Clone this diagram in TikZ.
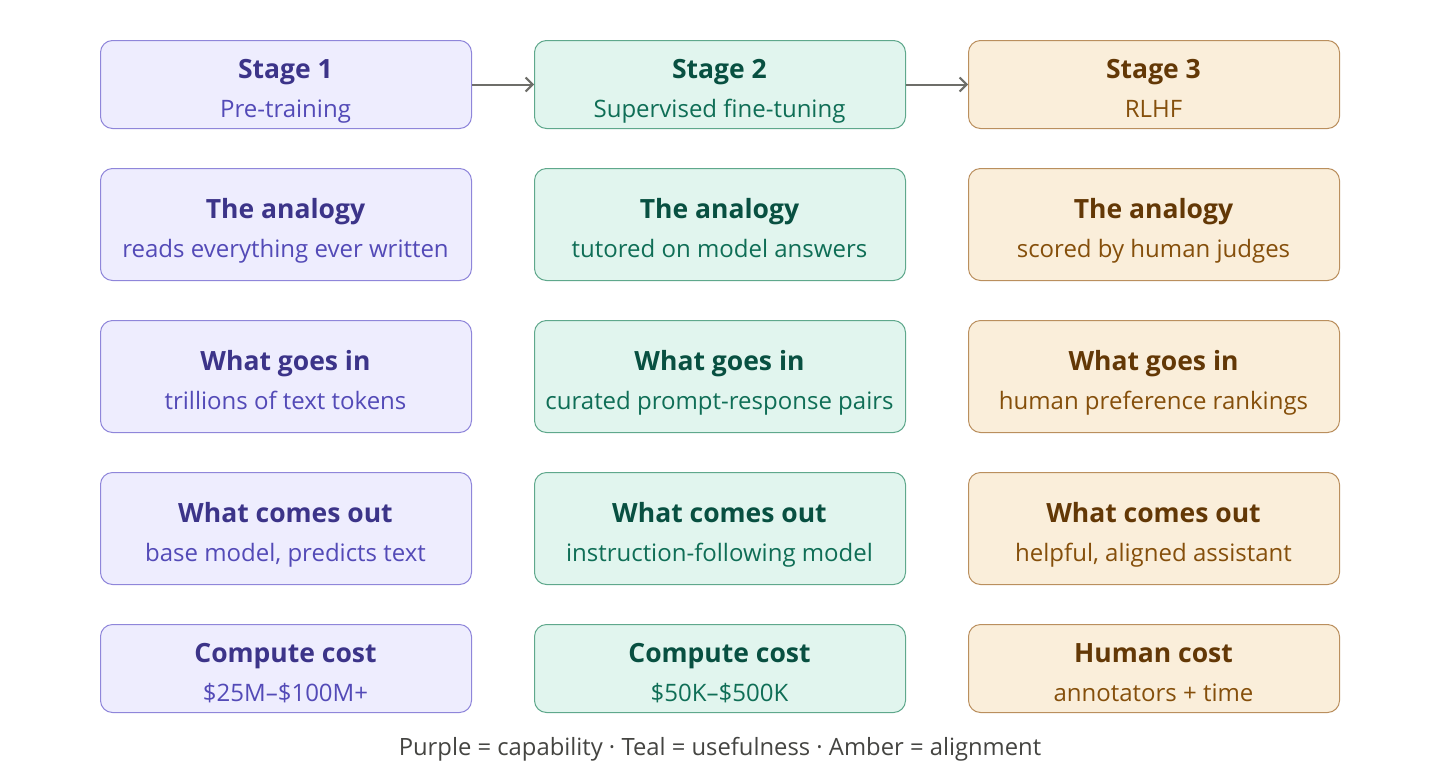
\documentclass[tikz,border=0pt]{standalone}
\usepackage{fontspec}
\setmainfont{Open Sans}
\usetikzlibrary{arrows.meta}
\definecolor{pfill}{HTML}{EEEDFE}
\definecolor{pdraw}{HTML}{8F86DA}
\definecolor{ptitle}{HTML}{3C3489}
\definecolor{psub}{HTML}{534AB7}
\definecolor{tfill}{HTML}{E1F5EE}
\definecolor{tdraw}{HTML}{5FA88C}
\definecolor{ttitle}{HTML}{085041}
\definecolor{tsub}{HTML}{0F6E56}
\definecolor{afill}{HTML}{FAEEDA}
\definecolor{adraw}{HTML}{BA8F5E}
\definecolor{atitle}{HTML}{633806}
\definecolor{asub}{HTML}{854F0B}
\definecolor{arrowc}{HTML}{6E6E69}
\definecolor{capc}{HTML}{444441}
\tikzset{
  cardbox/.style={draw, line width=1pt, rounded corners=12pt, minimum width=371pt, inner sep=0pt, anchor=north west},
  pbox/.style={cardbox, fill=pfill, draw=pdraw},
  tbox/.style={cardbox, fill=tfill, draw=tdraw},
  abox/.style={cardbox, fill=afill, draw=adraw},
  ttl/.style={font=\fontsize{26.5}{30}\selectfont\bfseries, anchor=base, inner sep=0pt},
  sbt/.style={font=\fontsize{24}{28}\selectfont, anchor=base, inner sep=0pt},
  flowarrow/.style={draw=arrowc, line width=2pt, -{Straight Barb[length=7pt,width=14pt,line width=2pt]}}
}
% name, colour prefix, left x, top y, height, title, subtitle
\newcommand{\card}[7]{%
  \pgfmathsetmacro{\cx}{#3+185.5}%
  \pgfmathsetmacro{\ty}{#4+#5/2-6}%
  \pgfmathsetmacro{\sy}{#4+#5/2+33}%
  \node[#2box, minimum height=#5pt] (#1) at (#3,#4) {};
  \node[ttl, text=#2title] (#1t) at (\cx,\ty) {#6};
  \node[sbt, text=#2sub] (#1s) at (\cx,\sy) {#7};
}
\begin{document}
\begin{tikzpicture}[x=1pt,y=-1pt]
\useasboundingbox (0,0) rectangle (1440,782);
% column 1
\card{a1}{p}{100}{40}{88}{Stage 1}{Pre-training}
\card{a2}{p}{100}{168}{112}{The analogy}{reads everything ever written}
\card{a3}{p}{100}{320}{112}{What goes in}{trillions of text tokens}
\card{a4}{p}{100}{472}{112}{What comes out}{base model, predicts text}
\card{a5}{p}{100}{624}{88}{Compute cost}{\$25M–\$100M+}
% column 2
\card{b1}{t}{534}{40}{88}{Stage 2}{Supervised fine-tuning}
\card{b2}{t}{534}{168}{112}{The analogy}{tutored on model answers}
\card{b3}{t}{534}{320}{112}{What goes in}{curated prompt-response pairs}
\card{b4}{t}{534}{472}{112}{What comes out}{instruction-following model}
\card{b5}{t}{534}{624}{88}{Compute cost}{\$50K–\$500K}
% column 3
\card{c1}{a}{968}{40}{88}{Stage 3}{RLHF}
\card{c2}{a}{968}{168}{112}{The analogy}{scored by human judges}
\card{c3}{a}{968}{320}{112}{What goes in}{human preference rankings}
\card{c4}{a}{968}{472}{112}{What comes out}{helpful, aligned assistant}
\card{c5}{a}{968}{624}{88}{Human cost}{annotators + time}
% arrows
\draw[flowarrow] (a1.east) -- (b1.west);
\draw[flowarrow] (b1.east) -- (c1.west);
% caption
\node[font=\fontsize{23.8}{28}\selectfont, text=capc, anchor=base, inner sep=0pt] (cap) at (720,755) {Purple = capability · Teal = usefulness · Amber = alignment};
\end{tikzpicture}
\end{document}
